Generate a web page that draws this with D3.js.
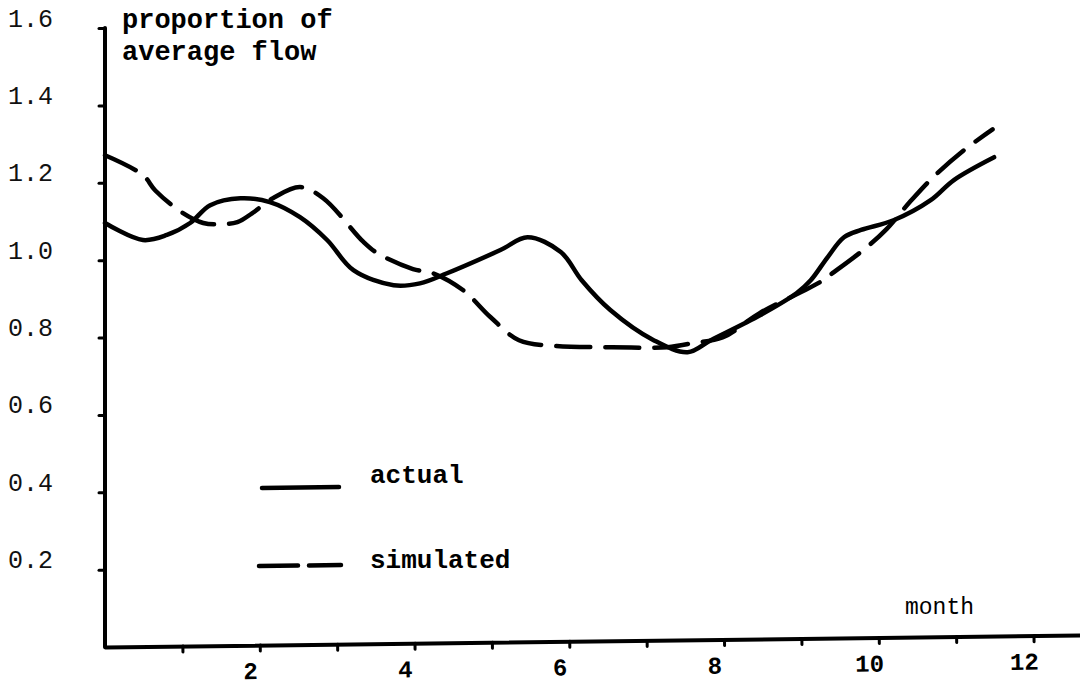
<!DOCTYPE html>
<head>
<meta charset="utf-8">
<title>Proportion of average flow - actual and simulated</title>
<script type="text/javascript" src="https://d3js.org/d3.v7.min.js"></script>

<style>
body { margin: 0; background: #ffffff; }

/* AXES */
.axis path, .axis line {
  stroke: #000000;
  stroke-width: 4;
  fill: none;
  stroke-linecap: round;
}
.axis line { stroke-width: 3; }

.ylab {
  font-family: "Liberation Mono", monospace;
  font-size: 25px;
  fill: #111111;
}
.xlab {
  font-family: "Liberation Mono", monospace;
  font-size: 24px;
  font-weight: bold;
  fill: #000000;
}

/* LINES */
.serie {
  fill: none;
  stroke: #000000;
  stroke-width: 4.5;
  stroke-linecap: round;
  stroke-linejoin: round;
}
.label {
  font-family: "Liberation Mono", monospace;
  font-size: 26px;
  font-weight: bold;
  fill: #000000;
}
</style>
</head>

<body>
<div id="container"></div>

<script>

//------------------------DATA-------------------------//

// month (0 = start of year)
const actualMonth = [0, 0.49, 0.8, 1.1, 1.36, 1.75, 2.13, 2.52, 2.87, 3.21, 3.73, 4.07, 4.42, 5.11, 5.46,
                     5.89, 6.16, 6.53, 7.09, 7.53, 7.83, 8.47, 8.94, 9.12, 9.34, 9.55, 9.77, 10.19, 10.67, 10.97, 11.49];
const actualFlow  = [1.096, 1.052, 1.065, 1.096, 1.142, 1.160, 1.150, 1.111, 1.052, 0.974, 0.935, 0.940, 0.966, 1.026, 1.059,
                     1.021, 0.948, 0.871, 0.793, 0.762, 0.793, 0.858, 0.915, 0.948, 1.008, 1.059, 1.078, 1.103, 1.155, 1.207, 1.266];

const simMonth = [0, 0.49, 0.65, 0.99, 1.27, 1.49, 1.71, 1.9, 2.17, 2.52, 2.82, 3.34, 3.52, 3.98, 4.24, 4.63,
                  4.98, 5.35, 5.83, 6.55, 7.27, 7.61, 7.98, 8.46, 9.24, 9.42, 9.83, 10.1, 10.4, 10.7, 11.1, 11.47];
const simFlow  = [1.271, 1.220, 1.180, 1.124, 1.096, 1.093, 1.098, 1.121, 1.160, 1.189, 1.160, 1.047, 1.018, 0.977, 0.966, 0.922,
                  0.853, 0.793, 0.778, 0.775, 0.775, 0.786, 0.800, 0.863, 0.943, 0.969, 1.031, 1.080, 1.150, 1.214, 1.284, 1.338];

const yTicks = [0.2, 0.4, 0.6, 0.8, 1.0, 1.2, 1.4, 1.6];
const yTickLabels = ["0.2", "0.4", "0.6", "0.8", "1.0", "1.2", "1.4", "1.6"];
const xTicks = [1, 2, 3, 4, 5, 6, 7, 8, 9, 10, 11, 12];
const xTickLabels = ["", "2", "", "4", "", "6", "", "8", "", "10", "", "12"];

//------------------------SVG-------------------------//

var margin = {top: 28, right: 0, bottom: 42, left: 105},
    width = 1080 - margin.left - margin.right,
    height = 689 - margin.top - margin.bottom;

var svg = d3.select("div#container")
  .append("svg")
    .attr("width", width + margin.left + margin.right)
    .attr("height", height + margin.top + margin.bottom)
    .style("background", "#ffffff")
  .append("g")
    .attr("transform", "translate(" + margin.left + "," + margin.top + ")");

//------------------------SCALES-------------------------//

const xScale = d3.scaleLinear().domain([0, 12.6]).range([0, width]);
const yScale = d3.scaleLinear().domain([0, 1.6]).range([height, 0]);

//------------------------AXES-------------------------//

const yaxis = d3.axisLeft(yScale)
    .tickValues(yTicks)
    .tickSize(6)
    .tickFormat(function(d, i) { return yTickLabels[i]; });

const gy = svg.append("g").attr("class", "axis").call(yaxis);
gy.select(".domain").attr("d", "M0," + yScale(1.6) + "V" + height);
gy.selectAll("text")
    .attr("class", "ylab")
    .attr("text-anchor", "start")
    .attr("x", -97)
    .attr("dy", "0.32em")
    .attr("transform", "translate(0,-10)");

// the typed x axis leans up slightly towards the right
const xaxis = d3.axisBottom(xScale)
    .tickValues(xTicks)
    .tickSize(6)
    .tickSizeOuter(0)
    .tickFormat(function(d, i) { return xTickLabels[i]; });

const gx = svg.append("g")
    .attr("class", "axis")
    .attr("transform", "translate(0," + height + ") rotate(-0.7)")
    .call(xaxis);
gx.selectAll("text")
    .attr("class", "xlab")
    .attr("dx", -10)
    .attr("dy", 0)
    .attr("y", 34);

//------------------------LINES-------------------------//

const line = d3.line()
    .x(function(d) { return xScale(d.m); })
    .y(function(d) { return yScale(d.v); })
    .curve(d3.curveCatmullRom.alpha(0.5));

const actual = actualMonth.map(function(m, i) { return {m: m, v: actualFlow[i]}; });
const simulated = simMonth.map(function(m, i) { return {m: m, v: simFlow[i]}; });

svg.append("path")
    .datum(simulated)
    .attr("class", "serie")
    .attr("stroke-dasharray", "34,15")
    .attr("d", line);

svg.append("path")
    .datum(actual)
    .attr("class", "serie")
    .attr("d", line);

//------------------------TITLES-------------------------//

svg.append("text")
    .attr("class", "label")
    .style("font-size", "27px")
    .attr("x", 17)
    .attr("y", 0)
    .text("proportion of");

svg.append("text")
    .attr("class", "label")
    .style("font-size", "27px")
    .attr("x", 17)
    .attr("y", 32)
    .text("average flow");

svg.append("text")
    .attr("class", "label")
    .style("font-weight", "normal")
    .style("font-size", "23px")
    .attr("x", 800)
    .attr("y", 586)
    .text("month");

//------------------------LEGEND-------------------------//

const legend = svg.append("g").attr("transform", "translate(157,0)");

legend.append("line")
    .attr("class", "serie")
    .attr("x1", 0).attr("x2", 77)
    .attr("y1", 460).attr("y2", 459);
legend.append("text")
    .attr("class", "label")
    .attr("x", 108)
    .attr("y", 455)
    .text("actual");

legend.append("line")
    .attr("class", "serie")
    .attr("stroke-dasharray", "39,11")
    .attr("x1", -3).attr("x2", 79)
    .attr("y1", 538).attr("y2", 537);
legend.append("text")
    .attr("class", "label")
    .attr("x", 108)
    .attr("y", 540)
    .text("simulated");

</script>
</body>
